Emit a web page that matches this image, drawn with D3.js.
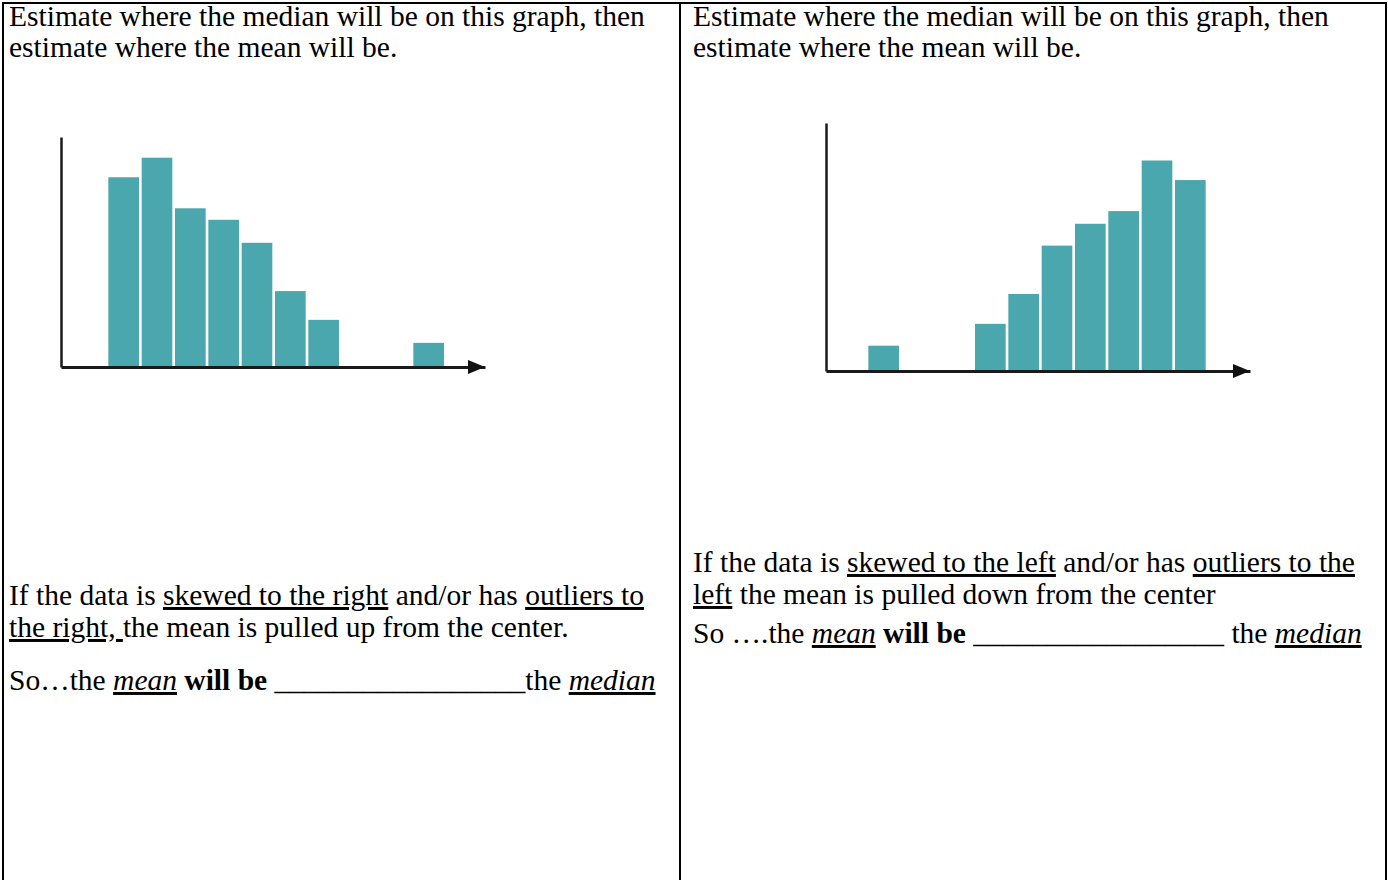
<!DOCTYPE html>
<html>
<head>
<meta charset="utf-8">
<script src="https://cdn.jsdelivr.net/npm/d3@7"></script>
<style>
  html, body { margin: 0; padding: 0; background: #fff; }
  svg { display: block; }
  text { font-family: "Liberation Serif", "Times New Roman", serif; font-size: 29.5px; fill: #000; white-space: pre; }
</style>
</head>
<body>
<svg id="chart"></svg>
<script>
// left histogram (skewed right), bin position in bin widths, height in counts
const leftBins = [0, 1, 2, 3, 4, 5, 6, 9.15];
const leftCounts = [8.25, 9.1, 6.9, 6.4, 5.4, 3.3, 2.05, 1.05];

// right histogram (skewed left)
const rightBins = [0, 3.2, 4.2, 5.2, 6.2, 7.2, 8.2, 9.2];
const rightCounts = [1.1, 2.05, 3.35, 5.45, 6.4, 6.95, 9.15, 8.3];

const questionLines = [
  "Estimate where the median will be on this graph, then",
  "estimate where the mean will be."
];

// segments: [text, style]  u = underline, i = italic, b = bold
const leftNote = [
  [["If the data is ", ""], ["skewed to the right", "u"], [" and/or has ", ""], ["outliers to", "u"]],
  [["the right, ", "u"], ["the mean is pulled up from the center.", ""]],
  [["So…the ", ""], ["mean", "iu"], [" ", ""], ["will be", "b"], [" _________________", ""], ["the ", ""], ["median", "iu"]]
];
const rightNote = [
  [["If the data is ", ""], ["skewed to the left", "u"], [" and/or has ", ""], ["outliers to the", "u"]],
  [["left", "u"], [" the mean is pulled down from the center", ""]],
  [["So ….the ", ""], ["mean", "iu"], [" ", ""], ["will be", "b"], [" _________________ the ", ""], ["median", "iu"]]
];

const W = 1388, H = 880;
const svg = d3.select("#chart").attr("width", W).attr("height", H);
svg.append("rect").attr("width", W).attr("height", H).attr("fill", "#fff");

// table borders
const grid = svg.append("g").attr("stroke", "#000").attr("stroke-width", 2).attr("fill", "none");
grid.append("path").attr("d", `M2,3H1387`);
[3, 680, 1386].forEach(x => grid.append("path").attr("d", `M${x},2V${H}`));

function writeLines(x, baselines, lines) {
  lines.forEach((segs, k) => {
    const t = svg.append("text").attr("x", x).attr("y", baselines[k]);
    segs.forEach(([str, st]) => {
      t.append("tspan")
        .text(str)
        .style("text-decoration", st.includes("u") ? "underline" : null)
        .style("font-style", st.includes("i") ? "italic" : null)
        .style("font-weight", st.includes("b") ? "bold" : null);
    });
  });
}

const asSegs = arr => arr.map(s => [[s, ""]]);
writeLines(9, [26, 57], asSegs(questionLines));
writeLines(693, [26, 57], asSegs(questionLines));
writeLines(9, [605, 637, 690], leftNote);
writeLines(693, [572, 604, 643], rightNote);

function histogram(bins, counts, o) {
  const g = svg.append("g");
  const x = d3.scaleLinear().domain([o.xMin, o.xMax]).range([o.axisX, o.endX]);
  const y = d3.scaleLinear().domain([0, o.yMax]).range([o.baseY, o.topY]);

  g.selectAll(".bar")
    .data(bins.map((b, i) => ({ b, c: counts[i] })))
    .enter()
    .append("rect")
    .attr("class", "bar")
    .attr("x", d => x(d.b))
    .attr("width", x(0.92) - x(0))
    .attr("y", d => y(d.c))
    .attr("height", d => y(0) - y(d.c))
    .attr("fill", "#4ba7ae");

  const xAxis = g.append("g")
    .attr("transform", `translate(0,${o.baseY})`)
    .call(d3.axisBottom(x).tickValues([]).tickSizeOuter(0));
  xAxis.select(".domain").attr("stroke", "#1a1a1a").attr("stroke-width", 3);

  const yAxis = g.append("g")
    .attr("transform", `translate(${o.axisX},0)`)
    .call(d3.axisLeft(y).tickValues([]).tickSizeOuter(0));
  yAxis.select(".domain").attr("stroke", "#1a1a1a").attr("stroke-width", 2.5);

  // arrow head at the end of the x axis
  const tip = x.range()[1];
  g.append("path")
    .attr("d", `M${tip - 17},${o.baseY - 7}L${tip},${o.baseY}L${tip - 17},${o.baseY + 7}Z`)
    .attr("fill", "#111");
}

histogram(leftBins, leftCounts, { xMin: -1.42, xMax: 11.3, axisX: 61, endX: 485, baseY: 367, topY: 137, yMax: 10 });
histogram(rightBins, rightCounts, { xMin: -1.27, xMax: 11.45, axisX: 826, endX: 1250, baseY: 371, topY: 123, yMax: 10.78 });
</script>
</body>
</html>
